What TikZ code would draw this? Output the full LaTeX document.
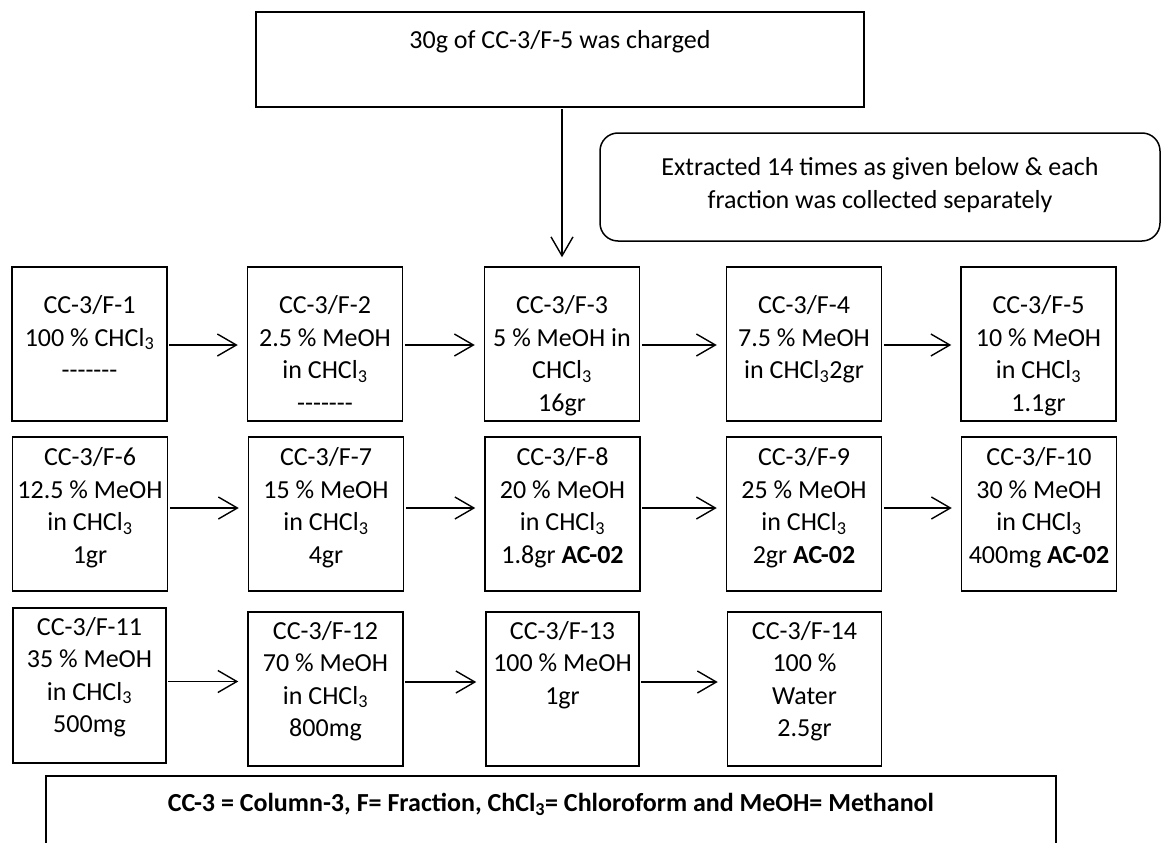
\documentclass[tikz,border=0pt]{standalone}
\usepackage{fontspec}
\setmainfont{Carlito}
\usetikzlibrary{arrows.meta}

\newcommand{\chcl}{CHCl\textsubscript{3}}
\newcommand{\nodata}{\mbox{-}\mbox{-}\mbox{-}\mbox{-}\mbox{-}\mbox{-}\mbox{-}}
% width, height, first baseline, text
\newcommand{\boxtext}[4]{\parbox[c][#2][t]{#1}{\centering\fontsize{26}{32.5}\selectfont\rule{0pt}{#3}#4}}

\tikzset{
  fracbox/.style={draw, line width=1.5pt, inner sep=0pt},
  flow/.style={-{Straight Barb[length=19pt,width=22pt]}, line width=1.4pt, shorten <=1.5pt, shorten >=9pt}
}

\begin{document}
\begin{tikzpicture}[x=1pt,y=-1pt]
    \useasboundingbox (0,0) rectangle (1162,843);

    % Charge and note
    \node[fracbox] (charge) at (560,59.5) {\boxtext{608pt}{95pt}{36.5pt}{30g of CC-3/F-5 was charged}};
    \node[fracbox, rounded corners=18pt] (note) at (880,187) {\boxtext{560pt}{108pt}{42.5pt}{Extracted 14 times as given below \& each\\fraction was collected separately}};

    % First row
    \node[fracbox] (f1) at (89.5,344) {\boxtext{155pt}{154pt}{46.5pt}{CC-3/F-1\\100 \% \chcl\\\nodata}};
    \node[fracbox] (f2) at (325,344) {\boxtext{155pt}{154pt}{46.5pt}{CC-3/F-2\\2.5 \% MeOH\\in \chcl\\\nodata}};
    \node[fracbox] (f3) at (562,344) {\boxtext{155pt}{154pt}{46.5pt}{CC-3/F-3\\5 \% MeOH in\\\chcl\\16gr}};
    \node[fracbox] (f4) at (804,344) {\boxtext{155pt}{154pt}{46.5pt}{CC-3/F-4\\7.5 \% MeOH\\in \chcl2gr}};
    \node[fracbox] (f5) at (1038.5,344) {\boxtext{155pt}{154pt}{46.5pt}{CC-3/F-5\\10 \% MeOH\\in \chcl\\1.1gr}};

    % Second row
    \node[fracbox] (f6) at (90,514) {\boxtext{155pt}{154pt}{28.5pt}{CC-3/F-6\\12.5 \% MeOH\\in \chcl\\1gr}};
    \node[fracbox] (f7) at (326,514) {\boxtext{155pt}{154pt}{28.5pt}{CC-3/F-7\\15 \% MeOH\\in \chcl\\4gr}};
    \node[fracbox] (f8) at (562.5,514) {\boxtext{155pt}{154pt}{28.5pt}{CC-3/F-8\\20 \% MeOH\\in \chcl\\1.8gr \textbf{AC-02}}};
    \node[fracbox] (f9) at (804,514) {\boxtext{155pt}{154pt}{28.5pt}{CC-3/F-9\\25 \% MeOH\\in \chcl\\2gr \textbf{AC-02}}};
    \node[fracbox] (f10) at (1039,514) {\boxtext{155pt}{154pt}{28.5pt}{CC-3/F-10\\30 \% MeOH\\in \chcl\\400mg \textbf{AC-02}}};

    % Third row
    \node[fracbox] (f11) at (89.5,685.5) {\boxtext{153pt}{155pt}{27pt}{CC-3/F-11\\35 \% MeOH\\in \chcl\\500mg}};
    \node[fracbox] (f12) at (325.5,689) {\boxtext{155pt}{154pt}{27pt}{CC-3/F-12\\70 \% MeOH\\in \chcl\\800mg}};
    \node[fracbox] (f13) at (562.5,689) {\boxtext{153pt}{154pt}{27pt}{CC-3/F-13\\100 \% MeOH\\1gr}};
    \node[fracbox] (f14) at (804.5,689) {\boxtext{154pt}{154pt}{27pt}{CC-3/F-14\\100 \%\\Water\\2.5gr}};

    % Legend
    \node[fracbox] (legend) at (551,826) {\boxtext{1010pt}{100pt}{35.5pt}{\bfseries CC-3 = Column-3, F= Fraction, ChCl\textsubscript{3}= Chloroform and MeOH= Methanol}};

    % Arrows
    \draw[flow] (charge.south -| f3) -- (f3.north);

    \draw[flow] ([yshift=-1pt]f1.east) -- ([yshift=-1pt]f1.east -| f2.west);
    \draw[flow] ([yshift=-1pt]f2.east) -- ([yshift=-1pt]f2.east -| f3.west);
    \draw[flow] ([yshift=-1pt]f3.east) -- ([yshift=-1pt]f3.east -| f4.west);
    \draw[flow] ([yshift=-1pt]f4.east) -- ([yshift=-1pt]f4.east -| f5.west);

    \draw[flow] ([yshift=6pt]f6.east) -- ([yshift=6pt]f6.east -| f7.west);
    \draw[flow] ([yshift=6pt]f7.east) -- ([yshift=6pt]f7.east -| f8.west);
    \draw[flow] ([yshift=6pt]f8.east) -- ([yshift=6pt]f8.east -| f9.west);
    \draw[flow] ([yshift=6pt]f9.east) -- ([yshift=6pt]f9.east -| f10.west);

    \draw[flow] ([yshift=4pt]f11.east) -- ([yshift=4pt]f11.east -| f12.west);
    \draw[flow] ([yshift=7pt]f12.east) -- ([yshift=7pt]f12.east -| f13.west);
    \draw[flow] ([yshift=7pt]f13.east) -- ([yshift=7pt]f13.east -| f14.west);

\end{tikzpicture}
\end{document}
